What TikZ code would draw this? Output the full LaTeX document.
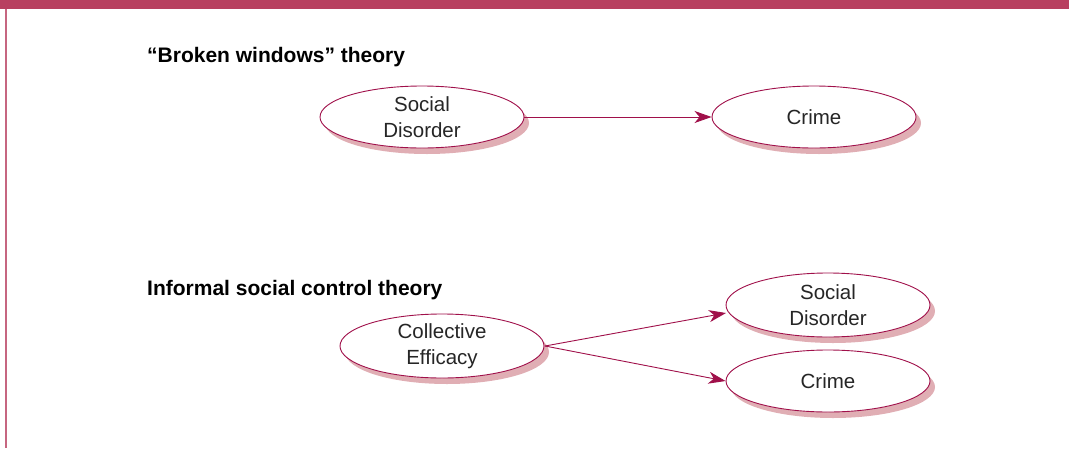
\documentclass[tikz,border=0pt]{standalone}
\usepackage{fontspec}
\setmainfont{Liberation Sans}
\usetikzlibrary{shapes.geometric,arrows.meta,shadows}
\definecolor{bar}{HTML}{B84060}
\definecolor{edge}{HTML}{A0104A}
\definecolor{shade}{HTML}{E0AEB4}
\tikzset{
  oval/.style={ellipse, draw=edge, line width=0.9pt, fill=white, minimum width=204pt, minimum height=62pt, inner sep=0pt, align=center, font=\fontsize{20.5}{26}\selectfont, text=black!85,
    drop shadow={shadow xshift=5pt, shadow yshift=-6pt, fill=shade, opacity=1}},
  conn/.style={draw=edge, line width=0.9pt, -{Stealth[length=17pt,width=12pt,inset=5pt]}},
  ttl/.style={anchor=base west, font=\fontsize{21}{25}\selectfont\bfseries, inner sep=0pt}
}
\begin{document}
\begin{tikzpicture}[x=1pt,y=-1pt]
\useasboundingbox (0,0) rectangle (1069,448);
\fill[bar] (0,0) rectangle (1069,9);
\fill[bar!80] (5,9) rectangle (7,448);
\node[ttl] (t1) at (147,62) {“Broken windows” theory};
\node[ttl] (t2) at (147,295) {Informal social control theory};
\node[oval] (sd1) at (422,117) {Social\\Disorder};
\node[oval] (cr1) at (814,117) {Crime};
\node[oval, minimum height=64pt] (ce) at (442,346) {Collective\\Efficacy};
\node[oval, minimum height=64pt] (sd2) at (828,305) {Social\\Disorder};
\node[oval] (cr2) at (828,381) {Crime};
\draw[conn] (sd1) -- (cr1);
\coordinate (ceo) at (545,346);
\coordinate (sd2in) at (726,313);
\draw[conn] (ceo) -- (sd2in);
\draw[conn] (ceo) -- (cr2.west);
\end{tikzpicture}
\end{document}
